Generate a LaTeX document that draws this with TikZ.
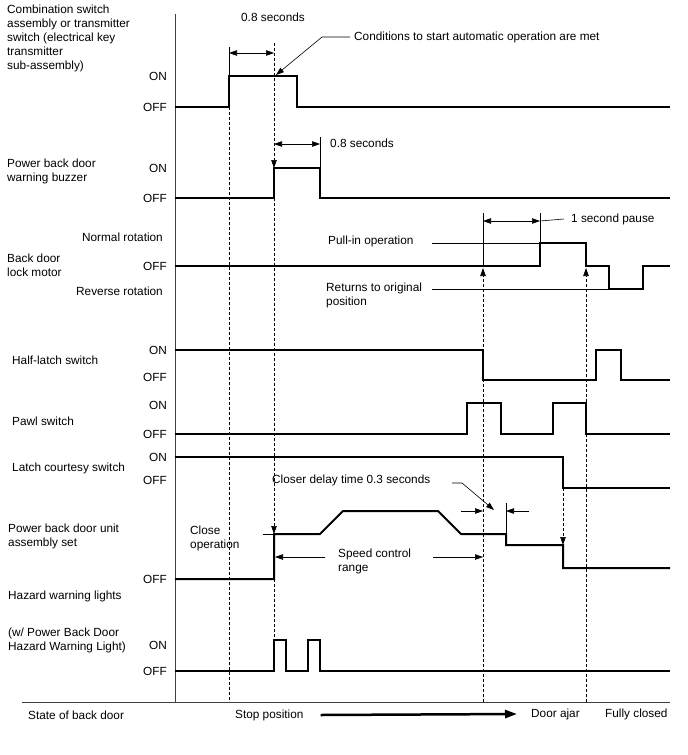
\documentclass[tikz,border=0pt]{standalone}
\usepackage{fontspec}
\setmainfont{Liberation Sans}
\usetikzlibrary{arrows.meta,positioning}

\begin{document}
\begin{tikzpicture}[x=1pt,y=-1pt,
  every node/.style={font=\fontsize{11.8}{14}\selectfont, inner sep=0pt},
  sig/.style={line width=2pt, line join=miter},
  axisline/.style={line width=0.9pt, black!75},
  guide/.style={line width=0.7pt, dash pattern=on 3pt off 2pt},
  leader/.style={line width=0.6pt},
  tip/.style={-{Triangle[length=8pt,width=5.5pt]}},
  dim/.style={line width=0.6pt, {Triangle[length=8pt,width=5.5pt]}-{Triangle[length=8pt,width=5.5pt]}},
  lbl/.style={anchor=west, align=left},
  lvl/.style={anchor=east}
]
  \useasboundingbox (0,0) rectangle (688,755);

  % axes
  \coordinate (top) at (175,14);
  \coordinate (org) at (175,702);
  \coordinate (bl) at (22,702);
  \coordinate (br) at (670,702);
  \draw[axisline] (top) -- (org);
  \draw[axisline] (bl) -- (br);

  % signal names
  \node[lbl] (combo) at (7,38) {Combination switch\\assembly or transmitter\\switch (electrical key\\transmitter\\sub-assembly)};
  \node[lbl] (buzz) at (7,171) {Power back door\\warning buzzer};
  \node[lbl] (lockm) at (7,265) {Back door\\lock motor};
  \node[lbl] (halfl) at (12,360) {Half-latch switch};
  \node[lbl] (pawl) at (12,421) {Pawl switch};
  \node[lbl] (courtesy) at (12,468) {Latch courtesy switch};
  \node[lbl] (unitset) at (8,536) {Power back door unit\\assembly set};
  \node[lbl] (hazard) at (8,596) {Hazard warning lights};
  \node[lbl] (hazardpb) at (8,640) {(w/ Power Back Door\\Hazard Warning Light)};

  % levels
  \foreach \nm/\yy/\txt in {c1/76/ON, c0/107/OFF, b1/168/ON, b0/198/OFF,
      m0/266/OFF, h1/350/ON, h0/377/OFF, p1/405/ON, p0/434/OFF,
      l1/457/ON, l0/480/OFF, u0/579/OFF, w1/645/ON, w0/671/OFF}
    \node[lvl] (\nm) at (167,\yy) {\txt};
  \node[lvl] (mnorm) at (163,237) {Normal rotation};
  \node[lvl] (mrev) at (163,291) {Reverse rotation};

  % guides
  \draw[guide] (229,107) -- (229,702);
  \draw[guide,tip] (274,43) -- (274,168);
  \draw[guide,tip] (274,198) -- (274,534);
  \draw[guide] (274,579) -- (274,640);
  \draw[guide,tip] (483,702) -- (483,268);
  \draw[guide,tip] (586,702) -- (586,268);
  \draw[guide,tip] (563,488) -- (563,545);

  % signals
  \draw[sig] (175,107) -- (229,107) -- (229,76) -- (297,76) -- (297,107) -- (670,107);
  \draw[sig] (175,198) -- (274,198) -- (274,168) -- (320,168) -- (320,198) -- (670,198);
  \draw[sig] (175,266) -- (540,266) -- (540,243) -- (586,243) -- (586,266) -- (609,266)
    -- (609,289) -- (643,289) -- (643,266) -- (670,266);
  \draw[sig] (175,350) -- (483,350) -- (483,380) -- (596,380) -- (596,350) -- (621,350)
    -- (621,380) -- (670,380);
  \draw[sig] (175,434) -- (467,434) -- (467,403) -- (501,403) -- (501,434) -- (553,434)
    -- (553,403) -- (586,403) -- (586,434) -- (670,434);
  \draw[sig] (175,457) -- (563,457) -- (563,488) -- (670,488);
  \draw[sig] (175,579) -- (274,579) -- (274,534) -- (320,534) -- (343,511) -- (438,511)
    -- (461,534) -- (506,534) -- (506,545) -- (563,545) -- (563,568) -- (670,568);
  \draw[sig] (175,671) -- (274,671) -- (274,640) -- (286,640) -- (286,671) -- (308,671)
    -- (308,640) -- (320,640) -- (320,671) -- (670,671);

  % 0.8 s marks
  \draw[leader] (229,47) -- (229,76);
  \draw[dim] (229,53) -- (274,53);
  \node (dimA) at (273,17) {0.8 seconds};
  \node[lbl] (cond) at (354,37) {Conditions to start automatic operation are met};
  \draw[leader,tip] ([xshift=-4pt]cond.west) -- (322,37) -- (276,75);
  \draw[leader] (320,137) -- (320,168);
  \draw[dim] (274,144) -- (320,144);
  \node[lbl] (dimB) at (330,143) {0.8 seconds};

  % lock motor notes
  \draw[leader] (483,213) -- (483,266);
  \draw[leader] (540,213) -- (540,243);
  \draw[dim] (483,221) -- (540,221);
  \node[lbl] (pause) at (571,219) {1 second pause};
  \draw[leader] (540,221) -- ([xshift=-7pt]pause.west);
  \node[lbl] (pullin) at (328,241) {Pull-in operation};
  \draw[leader] (432,243) -- (540,243);
  \node[lbl] (retpos) at (326,295) {Returns to original\\position};
  \draw[leader] (432,289) -- (609,289);

  % unit assembly notes
  \node[lbl] (closeop) at (190,538) {Close\\operation};
  \draw[leader] (263,534) -- (274,534);
  \node[lbl] (delay) at (272,480) {Closer delay time 0.3 seconds};
  \draw[leader,tip] (452,483) -- (462,483) -- (494,510);
  \draw[leader,tip] (461,511) -- (483,511);
  \draw[leader,tip] (529,511) -- (506,511);
  \draw[leader] (506,503) -- (506,534);
  \node[lbl] (speed) at (338,561) {Speed control\\range};
  \draw[leader,tip] (325,557) -- (275,557);
  \draw[leader,tip] (433,557) -- (483,557);

  % state of back door
  \node[lbl] (state) at (28,715) {State of back door};
  \node[lbl] (stop) at (235,715) {Stop position};
  \node[lbl] (ajar) at (531,714) {Door ajar};
  \node[lbl] (full) at (605,714) {Fully closed};
  \draw[line width=2.5pt,-{Triangle[length=12pt,width=8pt]}] ([xshift=17pt]stop.east) -- ([xshift=-14pt]ajar.west);
\end{tikzpicture}
\end{document}
